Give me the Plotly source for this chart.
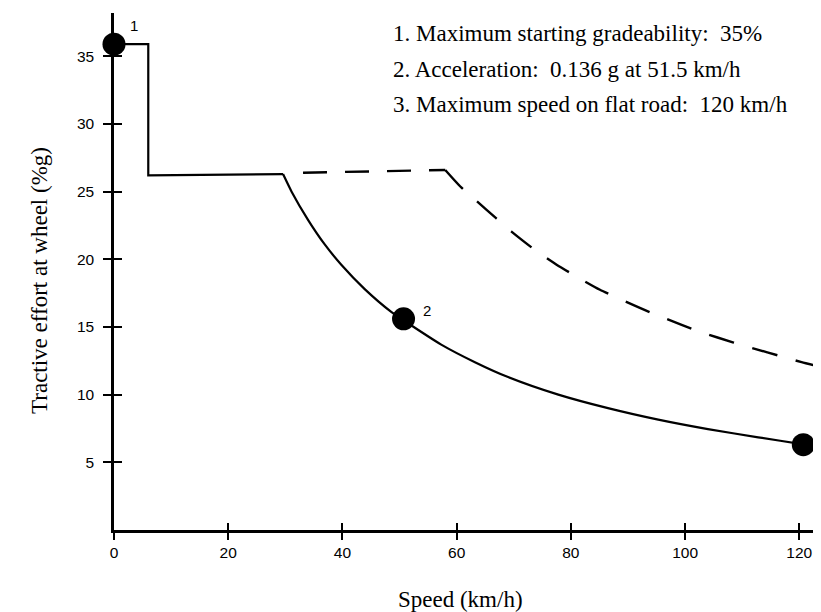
import plotly.graph_objects as go

# ---- data ----
step_speed = [0, 6.0, 6.0, 29.6]
step_effort = [35.9, 35.9, 26.2, 26.3]

curve_speed = [29.6, 31.1, 34.0, 36.9, 39.8, 43.9, 48.6, 50.7, 57.3, 63.2, 69.0,
               77.8, 86.5, 95.3, 104.0, 112.8, 120.7, 125.1]
curve_effort = [26.3, 25.0, 22.9, 21.1, 19.6, 17.8, 16.1, 15.5, 13.7, 12.4, 11.3,
                10.0, 9.0, 8.15, 7.45, 6.85, 6.33, 6.05]

dash_flat_speed = [33.1, 58.0]
dash_flat_effort = [26.4, 26.6]

dash_speed = [58.0, 60.6, 63.5, 67.0, 69.6, 74.0, 77.5, 81.9, 85.1, 90.0,
              93.8, 99.4, 102.9, 108.5, 111.3, 117.5, 120.4, 125.1]
dash_effort = [26.6, 25.4, 24.3, 23.0, 22.05, 20.6, 19.6, 18.5, 17.75, 16.8,
               16.1, 15.15, 14.6, 13.85, 13.5, 12.75, 12.4, 11.9]

mark_speed = [0, 50.7, 120.7]
mark_effort = [35.9, 15.6, 6.3]
mark_labels = ["1", "2", "3"]

x_ticks = [0, 20, 40, 60, 80, 100, 120]
y_ticks = [5, 10, 15, 20, 25, 30, 35]

notes = [
    "1. Maximum starting gradeability:  35%",
    "2. Acceleration:  0.136 g at 51.5 km/h",
    "3. Maximum speed on flat road:  120 km/h",
]

x_title = "Speed (km/h)"
y_title = "Tractive effort at wheel (%g)"

X_RANGE = [0, 125.2]
Y_RANGE = [0, 38.2]

fig = go.Figure()
fig.add_trace(go.Scatter(x=step_speed, y=step_effort, mode="lines",
                         line=dict(color="black", width=2.2), cliponaxis=False))
fig.add_trace(go.Scatter(x=curve_speed, y=curve_effort, mode="lines",
                         line=dict(color="black", width=2.2, shape="spline", smoothing=0.6)))
fig.add_trace(go.Scatter(x=dash_flat_speed, y=dash_flat_effort, mode="lines",
                         line=dict(color="black", width=2.4, dash="24px,18px")))
fig.add_trace(go.Scatter(x=dash_speed, y=dash_effort, mode="lines",
                         line=dict(color="black", width=2.4, dash="26px,19px",
                                   shape="spline", smoothing=0.6)))
fig.add_trace(go.Scatter(x=mark_speed, y=mark_effort, mode="markers",
                         marker=dict(color="black", size=23), cliponaxis=False))
# invisible trace to realise the overlay axes (crossing ticks)
fig.add_trace(go.Scatter(x=[], y=[], xaxis="x2", yaxis="y2", mode="lines"))

shifts = [(20, 19, "center"), (23, 8, "center"), (20, 10, "left")]
for sx, sy, lab, (dx, dy, anc) in zip(mark_speed, mark_effort, mark_labels, shifts):
    fig.add_annotation(x=sx, y=sy, xref="x", yref="y", text=lab, showarrow=False,
                       xshift=dx, yshift=dy, xanchor=anc,
                       font=dict(family="Liberation Sans", size=15, color="black"))

note_y = [0.9613, 0.8903, 0.8226]
for t, yy in zip(notes, note_y):
    fig.add_annotation(x=0.3878, y=yy, xref="paper", yref="paper", text=t,
                       showarrow=False, xanchor="left", yanchor="middle",
                       font=dict(family="Liberation Serif", size=23, color="black"))

fig.add_annotation(x=0.4846, y=-0.1348, xref="paper", yref="paper", text=x_title,
                   showarrow=False, xanchor="center", yanchor="middle",
                   font=dict(family="Liberation Serif", size=23, color="black"))
fig.add_annotation(x=-0.1035, y=0.4836, xref="paper", yref="paper", text=y_title,
                   showarrow=False, xanchor="center", yanchor="middle", textangle=-90,
                   font=dict(family="Liberation Serif", size=23, color="black"))

tickfont = dict(family="Liberation Sans", size=15.5, color="black")
fig.update_layout(
    width=821, height=612,
    margin=dict(l=106, r=0, t=5, b=90),
    paper_bgcolor="white", plot_bgcolor="white",
    showlegend=False,
    xaxis=dict(range=X_RANGE, showgrid=False, zeroline=False, showline=True,
               linecolor="black", linewidth=2.5, ticks="outside", ticklen=7,
               tickwidth=2, tickcolor="black", tickvals=x_ticks, tickfont=tickfont),
    yaxis=dict(range=Y_RANGE, showgrid=False, zeroline=False, showline=True,
               linecolor="black", linewidth=2.5, ticks="outside", ticklen=8,
               tickwidth=2, tickcolor="black", tickvals=y_ticks, tickfont=tickfont,
               ticklabelstandoff=6),
    xaxis2=dict(range=X_RANGE, overlaying="x", anchor="y2", showgrid=False,
                zeroline=False, showline=False, ticks="inside", ticklen=7,
                tickwidth=2, tickcolor="black", tickvals=x_ticks, showticklabels=False),
    yaxis2=dict(range=Y_RANGE, overlaying="y", anchor="x2", showgrid=False,
                zeroline=False, showline=False, ticks="inside", ticklen=8,
                tickwidth=2, tickcolor="black", tickvals=y_ticks, showticklabels=False),
)

fig.write_html("out.html")
